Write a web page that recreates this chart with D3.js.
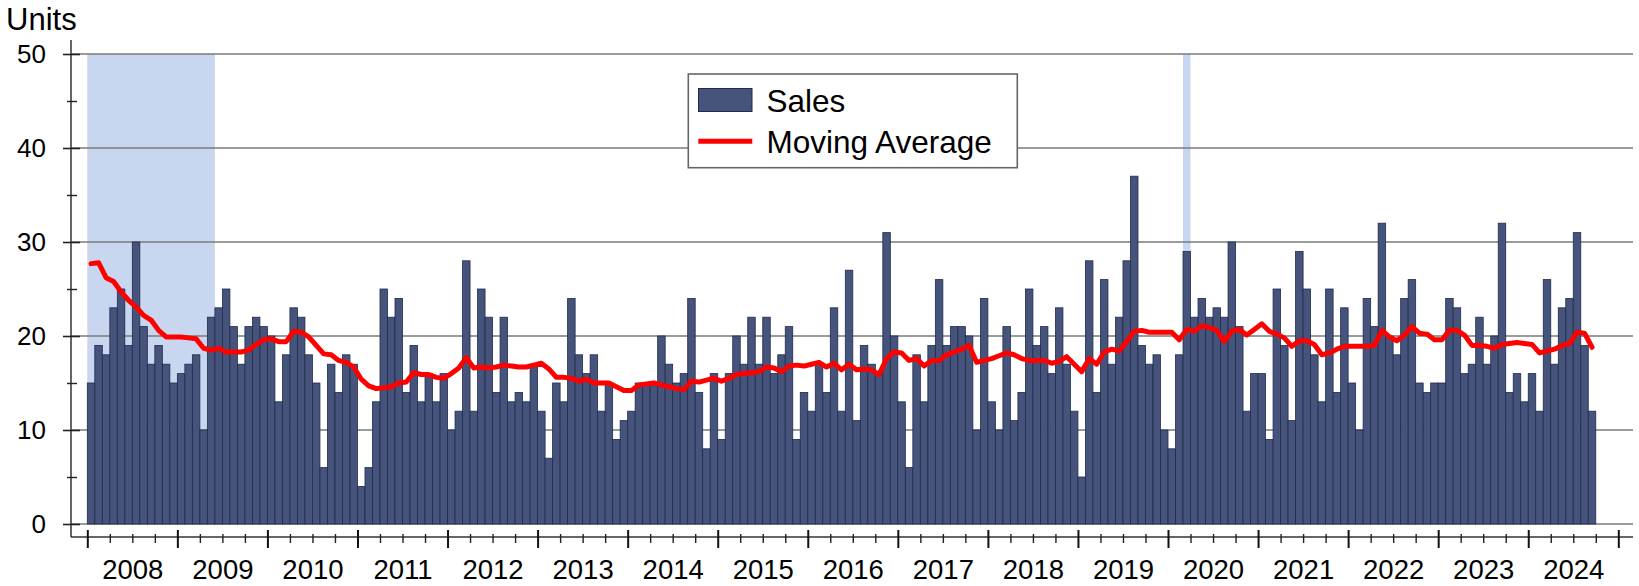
<!DOCTYPE html>
<html><head><meta charset="utf-8">
<script src="https://cdn.jsdelivr.net/npm/d3@7"></script>
<style>
body{margin:0;background:#fff}
svg{display:block}
text{font-family:"Liberation Sans",Arial,sans-serif;fill:#000}
</style>
</head><body>
<svg id="c" width="1639" height="586"></svg>
<script>
// ---- data (monthly, Jan 2008 .. Sep 2024) ----
const years = ["2008","2009","2010","2011","2012","2013","2014","2015","2016","2017","2018","2019","2020","2021","2022","2023","2024"];
const startYear = 2008;
const sales = [
 15,19,18,23,25,19,30,21,17,19,17,15,
 16,17,18,10,22,23,25,21,17,21,22,21,
 20,13,18,23,22,18,15,6,17,14,18,17,
 4,6,13,25,22,24,14,19,13,16,13,16,
 10,12,28,12,25,22,14,22,13,14,13,17,
 12,7,15,13,24,18,16,18,12,15,9,11,
 12,15,15,15,20,17,15,16,24,14,8,16,
 9,16,20,17,22,17,22,16,18,21,9,14,
 12,17,14,23,12,27,11,19,17,16,31,20,
 13,6,18,13,19,26,19,21,21,20,10,24,
 13,10,21,11,14,25,19,21,16,23,17,12,
 5,28,14,26,17,22,28,37,19,17,18,10,
 8,18,29,22,24,22,23,22,30,21,12,16,
 16,9,25,19,11,29,25,18,13,25,14,23,
 15,10,24,21,32,20,18,24,26,15,14,15,
 15,24,23,16,17,22,17,20,32,14,16,13,
 16,12,26,17,23,24,31,19,12
];
const movingAvg = [
 27.7,27.8,26.2,25.8,24.7,23.8,23.1,22.2,21.7,20.6,19.9,19.9,
 19.9,19.8,19.7,18.7,18.5,18.7,18.3,18.3,18.3,18.5,19.1,19.6,
 19.7,19.4,19.4,20.5,20.4,19.9,19.0,18.1,18.0,17.4,17.2,16.7,
 15.4,14.7,14.4,14.5,14.6,15.0,15.1,16.1,15.9,15.9,15.6,15.5,
 16.0,16.6,17.7,16.6,16.7,16.6,16.7,16.9,16.8,16.7,16.7,16.9,
 17.1,16.5,15.6,15.6,15.5,15.2,15.4,15.0,15.0,15.0,14.6,14.2,
 14.2,14.8,14.9,15.0,14.8,14.6,14.4,14.3,15.2,15.1,15.3,15.5,
 15.2,15.5,15.9,16.0,16.1,16.2,16.7,16.6,16.2,16.8,16.9,16.8,
 17.0,17.2,16.7,17.1,16.4,17.0,16.4,16.5,16.4,15.9,17.6,18.3,
 18.2,17.4,17.6,16.8,17.4,17.4,18.0,18.3,18.6,19.0,17.2,17.4,
 17.6,17.9,18.2,18.0,17.6,17.4,17.4,17.4,17.1,17.3,17.8,17.0,
 16.2,17.6,17.0,18.3,18.6,18.4,19.4,20.5,20.6,20.4,20.4,20.4,
 20.4,19.6,20.7,20.5,21.1,20.9,20.6,19.4,20.5,20.7,20.1,20.7,
 21.3,20.5,20.2,19.8,18.9,19.5,19.5,19.1,18.0,18.2,18.6,18.9,
 18.9,18.9,18.9,19.0,20.6,19.9,19.5,20.1,21.0,20.3,20.2,19.6,
 19.6,20.6,20.6,20.1,19.0,19.0,18.9,18.7,19.1,19.2,19.3,19.2,
 19.1,18.2,18.4,18.6,19.0,19.2,20.4,20.3,18.8
];
const recessions = [{start:"2008-01", end:"2009-06"}, {start:"2020-03", end:"2020-04"}];
const yTicks = [0,10,20,30,40,50];
const yMinorTicks = [5,15,25,35,45];
const seriesNames = ["Sales","Moving Average"];
const yTitle = "Units";

// ---- layout ----
const plotLeft = 71, plotRight = 1633;
const nMonths = years.length * 12;
const svg = d3.select("#c");
const monthIdx = s => { const [yy, mm] = s.split("-").map(Number); return (yy - startYear) * 12 + (mm - 1); };

const x = d3.scaleLinear().domain([0, nMonths]).range([87.3, 1618.3]);
const y = d3.scaleLinear().domain([0, 50]).range([524, 54]);

const navy = "#46537a", navyDark = "#1f2b50";

// recession shading
svg.append("g").selectAll("rect").data(recessions).join("rect")
  .attr("x", d => x(monthIdx(d.start)))
  .attr("width", d => x(monthIdx(d.end)) - x(monthIdx(d.start)))
  .attr("y", y(50)).attr("height", y(0) - y(50))
  .attr("fill", "#c9d6ef");

// gridlines
svg.append("g").selectAll("line").data(yTicks).join("line")
  .attr("x1", plotLeft).attr("x2", plotRight)
  .attr("y1", d => y(d)).attr("y2", d => y(d))
  .attr("stroke", "#7a7a7a").attr("stroke-width", 1.4);

// bars
svg.append("g").selectAll("rect").data(sales).join("rect")
  .attr("x", (d, i) => x(i))
  .attr("width", (d, i) => x(i + 1) - x(i))
  .attr("y", d => y(d))
  .attr("height", d => y(0) - y(d))
  .attr("fill", navy).attr("stroke", navyDark).attr("stroke-width", 0.8);

// moving average line
svg.append("path").datum(movingAvg)
  .attr("fill", "none").attr("stroke", "#ff0000").attr("stroke-width", 5)
  .attr("stroke-linejoin", "round").attr("stroke-linecap", "round")
  .attr("d", d3.line().x((d, i) => x(i + 0.5)).y(d => y(d)));

// y axis
svg.append("line").attr("x1", plotLeft).attr("x2", plotLeft).attr("y1", 40).attr("y2", 537)
  .attr("stroke", "#333").attr("stroke-width", 1.5);
const yAxisG = svg.append("g").attr("transform", "translate(80,0)")
  .call(d3.axisLeft(y).tickValues(yTicks).tickSize(17).tickSizeOuter(0).tickPadding(17).tickFormat(d3.format("d")));
yAxisG.select(".domain").remove();
yAxisG.selectAll("line").attr("stroke", "#222").attr("stroke-width", 1.6);
yAxisG.selectAll("text").attr("font-size", 26).attr("font-family", "Liberation Sans, Arial, sans-serif").attr("fill", "#000");
const yMinorG = svg.append("g").attr("transform", "translate(77,0)")
  .call(d3.axisLeft(y).tickValues(yMinorTicks).tickSize(10).tickSizeOuter(0).tickFormat(""));
yMinorG.select(".domain").remove();
yMinorG.selectAll("line").attr("stroke", "#222").attr("stroke-width", 1.4);

// x axis
svg.append("line").attr("x1", plotLeft).attr("x2", plotRight).attr("y1", 537).attr("y2", 537)
  .attr("stroke", "#333").attr("stroke-width", 1.5);
const majorVals = d3.range(0, nMonths + 1, 12);
const minorVals = d3.range(0, nMonths + 1, 3).filter(v => v % 12 !== 0);
const xMajG = svg.append("g").attr("transform", "translate(0,530)")
  .call(d3.axisBottom(x).tickValues(majorVals).tickSize(18).tickSizeOuter(0).tickFormat(""));
xMajG.select(".domain").remove();
xMajG.selectAll("line").attr("stroke", "#111").attr("stroke-width", 2);
const xMinG = svg.append("g").attr("transform", "translate(0,534)")
  .call(d3.axisBottom(x).tickValues(minorVals).tickSize(9).tickSizeOuter(0).tickFormat(""));
xMinG.select(".domain").remove();
xMinG.selectAll("line").attr("stroke", "#222").attr("stroke-width", 1.4);
const labVals = years.map((d, k) => k * 12 + 6);
const xLabG = svg.append("g").attr("transform", "translate(0,537)")
  .call(d3.axisBottom(x).tickValues(labVals).tickSize(0).tickPadding(22).tickFormat((d, k) => years[k]));
xLabG.select(".domain").remove();
xLabG.selectAll("text").attr("font-size", 27.5).attr("font-family", "Liberation Sans, Arial, sans-serif").attr("fill", "#000");

// y title
svg.append("text").attr("x", 6).attr("y", 29.5).attr("font-size", 31).text(yTitle);

// legend
const lg = svg.append("g");
lg.append("rect").attr("x", 688.3).attr("y", 74).attr("width", 329).attr("height", 93.7)
  .attr("fill", "#fff").attr("stroke", "#666").attr("stroke-width", 1.6);
lg.append("rect").attr("x", 698.5).attr("y", 88.5).attr("width", 53.5).attr("height", 23)
  .attr("fill", navy).attr("stroke", navyDark).attr("stroke-width", 1);
lg.append("text").attr("x", 766.5).attr("y", 111.7).attr("font-size", 31.5).text(seriesNames[0]);
lg.append("line").attr("x1", 698.3).attr("x2", 752.3).attr("y1", 141.2).attr("y2", 141.2)
  .attr("stroke", "#ff0000").attr("stroke-width", 5);
lg.append("text").attr("x", 766.5).attr("y", 152.7).attr("font-size", 31.5).text(seriesNames[1]);
</script>
</body></html>
